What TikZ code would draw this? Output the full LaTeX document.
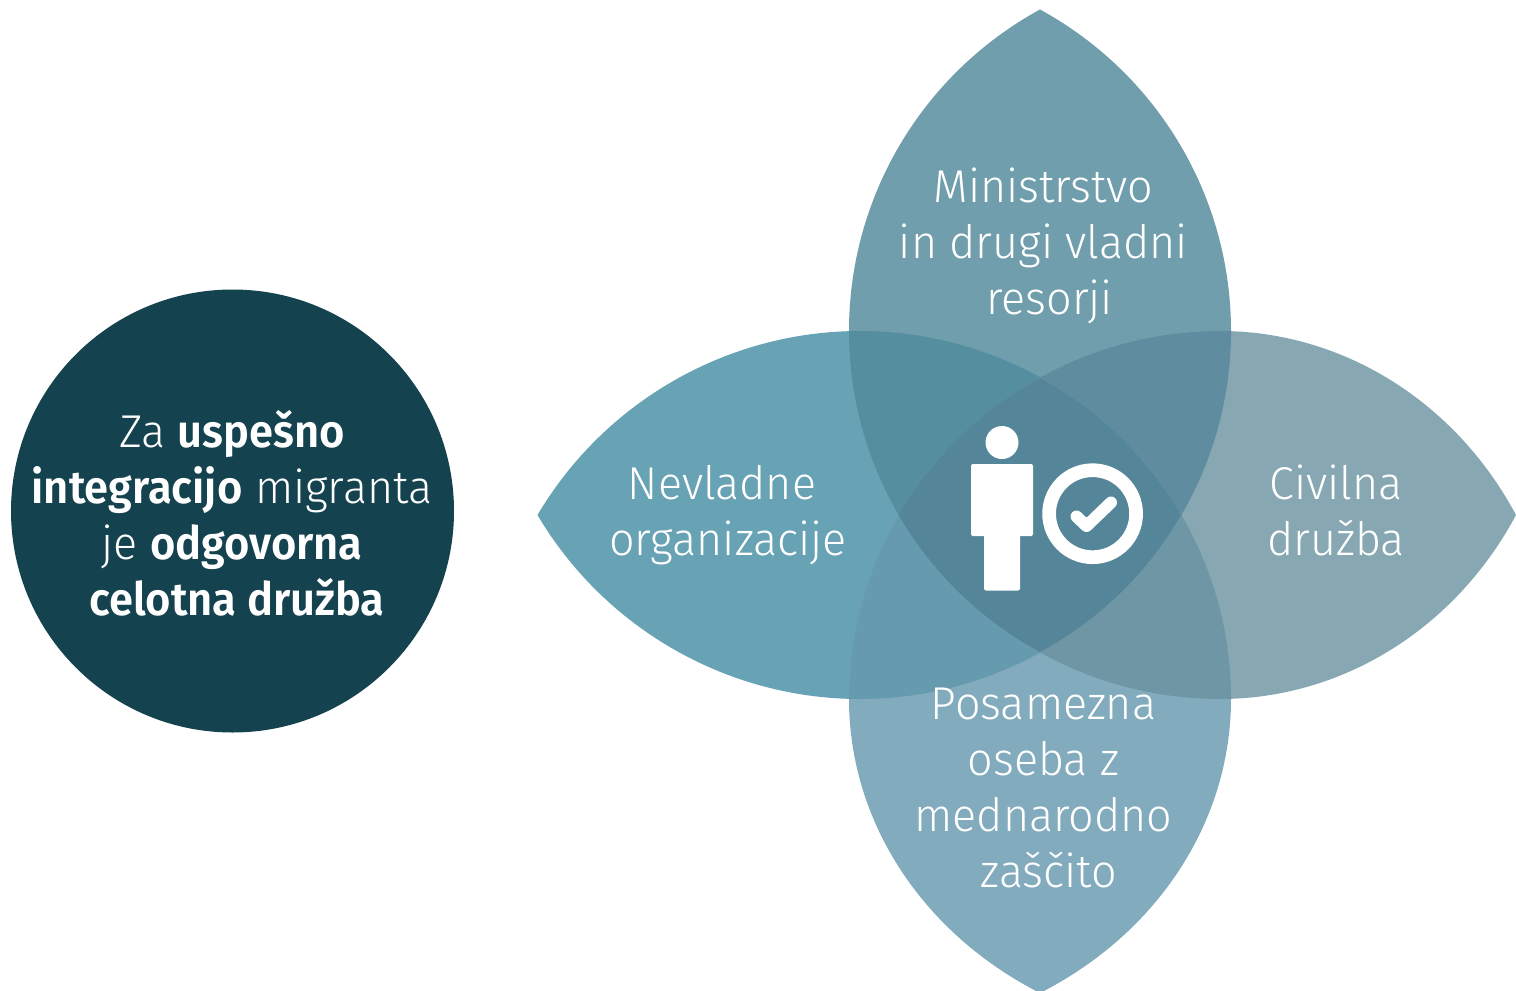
\documentclass[tikz,border=0pt]{standalone}
\usepackage{fontspec}
\setmainfont{Fira Sans}[UprightFont={* Light},BoldFont={* SemiBold},BoldFeatures={FakeStretch=0.945},UprightFeatures={FakeStretch=0.975}]
\usetikzlibrary{calc}
\definecolor{cTop}{HTML}{709EAD}
\definecolor{cLeft}{HTML}{68A2B5}
\definecolor{cRight}{HTML}{87A8B3}
\definecolor{cBottom}{HTML}{82ABBD}
\definecolor{cTL}{HTML}{558F9F}
\definecolor{cTR}{HTML}{5F8C9E}
\definecolor{cBL}{HTML}{669AAE}
\definecolor{cBR}{HTML}{6E96A5}
\definecolor{cMid}{HTML}{548598}
\definecolor{cDark}{HTML}{15424F}
\newcommand{\petalT}{(1040,9.5) .. controls (922,74) and (849,197) .. (849,331) .. controls (849,465) and (922,588) .. (1040,652) .. controls (1158,588) and (1231,465) .. (1231,331) .. controls (1231,197) and (1158,74) .. (1040,9.5) -- cycle}
\newcommand{\petalB}{(1040,378) .. controls (922,442) and (849,565) .. (849,699) .. controls (849,821) and (922,933) .. (1040,993) .. controls (1158,933) and (1231,821) .. (1231,699) .. controls (1231,565) and (1158,442) .. (1040,378) -- cycle}
\newcommand{\petalL}{(537.5,515) .. controls (605,401) and (728,331) .. (860,331) .. controls (992,331) and (1115,401) .. (1181,515) .. controls (1115,629) and (992,699) .. (860,699) .. controls (728,699) and (605,629) .. (537.5,515) -- cycle}
\newcommand{\petalR}{(1516,515) .. controls (1455,401) and (1342,331) .. (1220,331) .. controls (1088,331) and (966,401) .. (900,515) .. controls (966,629) and (1088,699) .. (1220,699) .. controls (1342,699) and (1455,629) .. (1516,515) -- cycle}
\tikzset{
  petaltext/.style={text=white,align=center,font=\fontsize{46}{56}\selectfont,inner sep=0pt},
  icon/.style={fill=white,draw=none},
}
\begin{document}
\begin{tikzpicture}[x=1pt,y=-1pt]
\useasboundingbox (0,0) rectangle (1516,991);
\fill[cDark] (232.5,511) circle[radius=221.5];
\fill[cTop] \petalT;
\fill[cLeft] \petalL;
\fill[cRight] \petalR;
\fill[cBottom] \petalB;
\begin{scope}\clip \petalT; \fill[cTL] \petalL; \fill[cTR] \petalR; \end{scope}
\begin{scope}\clip \petalB; \fill[cBL] \petalL; \fill[cBR] \petalR; \end{scope}
\begin{scope}\clip \petalT; \clip \petalB; \fill[cMid] \petalL; \end{scope}
% person
\fill[icon] (1002,442.5) circle[radius=16.5];
\fill[icon,rounded corners=2pt] (971,464) rectangle (1033,536);
\fill[icon,rounded corners=2pt] (984,530) rectangle (1020,590.5);
% badge
\draw[white,line width=13.7pt] (1092.6,513.7) circle[radius=43.5];
\draw[white,line width=12pt,line cap=round,line join=round] (1076.5,516.5) -- (1086.5,526) -- (1111,502.5);
% texts
\node[petaltext] (ministry) at (1043.5,245.5) {Ministrstvo\\in drugi vladni\\\hspace*{12pt}resorji};
\node[petaltext] (ngo) at (728,515.5) {\hspace*{-12pt}Nevladne\\organizacije};
\node[petaltext] (civil) at (1336,510.5) {Civilna\\družba};
\node[petaltext] (person) at (1043.5,787.5) {Posamezna\\oseba z\\mednarodno\\\hspace*{11pt}zaščito};
\node[petaltext] (main) at (232,513.5) {Za \textbf{uspešno}\\\textbf{integracijo} migranta\\je \textbf{odgovorna}\\\hspace*{10pt}\textbf{celotna družba}};
\end{tikzpicture}
\end{document}
